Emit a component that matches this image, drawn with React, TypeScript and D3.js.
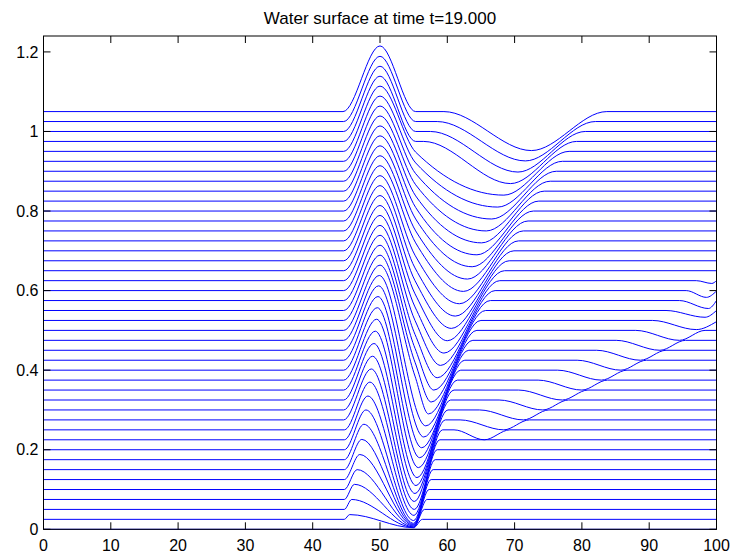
import * as d3 from "d3";

const titleText = "Water surface at time t=19.000";
const xTicks = [0, 10, 20, 30, 40, 50, 60, 70, 80, 90, 100];
const yTicks = [0, 0.2, 0.4, 0.6, 0.8, 1, 1.2];

// one profile per stacked line, bottom to top
const baselines = [
    0, 0.025, 0.05, 0.075, 0.1, 0.125, 0.15, 0.175, 0.2, 0.225, 0.25,
    0.275, 0.3, 0.325, 0.35, 0.375, 0.4, 0.425, 0.45, 0.475, 0.5, 0.525,
    0.55, 0.575, 0.6, 0.625, 0.65, 0.675, 0.7, 0.725, 0.75, 0.775, 0.8,
    0.825, 0.85, 0.875, 0.9, 0.925, 0.95, 0.975, 1, 1.025, 1.05,
];

const riseX = [
    44, 44.7, 44.7, 44.7, 44.7, 44.7, 44.7, 44.7, 44.7, 44.7, 44.7,
    44.6, 44.6, 44.6, 44.6, 44.6, 44.6, 44.6, 44.6, 44.6, 44.6, 44.6,
    44.6, 44.6, 44.6, 44.6, 44.6, 44.6, 44.6, 44.6, 44.6, 44.6, 44.6,
    44.6, 44.6, 44.6, 44.6, 44.6, 44.6, 44.6, 44.6, 44.6, 44.5,
];

const peakX = [
    47, 45.5, 45.8, 46.2, 46.6, 47, 47.3, 47.6, 47.9, 48.2, 48.5, 48.7,
    48.9, 49.1, 49.3, 49.5, 49.6, 49.7, 49.8, 49.9, 50, 50, 50, 50, 50,
    50, 50, 50, 50, 50, 50, 50, 50, 50, 50, 50, 50, 50, 50, 50, 50, 50, 50,
];

const peakY = [
    0, 0.037, 0.075, 0.113, 0.15, 0.188, 0.226, 0.264, 0.3, 0.335, 0.37,
    0.403, 0.435, 0.467, 0.498, 0.528, 0.557, 0.585, 0.612, 0.638, 0.664,
    0.689, 0.714, 0.739, 0.764, 0.789, 0.814, 0.839, 0.864, 0.889, 0.914,
    0.939, 0.964, 0.989, 1.014, 1.039, 1.064, 1.089, 1.114, 1.139, 1.164,
    1.189, 1.215,
];

// where the hump ends and the slower fall into the trough begins
const humpEndX = [
    null, null, null, null, null, null, null, null, null, null,
    null, null, null, null, null, null, null, null, null, null,
    55.2, 55.2, 55.2, 55.2, 55.2, 55.2, 55.2, 55.2, 55.2, 55.2,
    55.3, 55.3, 55.3, 55.3, 55.3, 55.3, 55.3, 55.3, 55.3, 55.3,
    55.3, 55.3, 55.3,
];
const humpEndY = [
    null, null, null, null, null, null, null, null, null, null,
    null, null, null, null, null, null, null, null, null, null,
    0.385, 0.42, 0.455, 0.49, 0.525, 0.559, 0.592, 0.625, 0.657, 0.689,
    0.72, 0.75, 0.78, 0.809, 0.838, 0.866, 0.894, 0.921, 0.948, 0.975,
    1, 1.025, 1.05,
];
// top lines stay at rest a little before dipping
const leaveX = [
    null, null, null, null, null, null, null, null, null, null, null,
    null, null, null, null, null, null, null, null, null, null, null,
    null, null, null, null, null, null, null, null, null, null, null,
    null, null, null, null, null, null, 56.5, 57.5, 58.5, 59.5,
];

const troughX = [
    55, 55, 55, 55, 55, 55, 55, 55, 55, 55.05, 55.1, 55.1, 55.2, 55.35,
    55.5, 55.7, 55.9, 56.2, 56.5, 56.8, 57.2, 57.6, 58, 58.5, 59, 59.5,
    60, 60.6, 61.2, 61.8, 62.4, 63, 63.7, 64.4, 65.1, 65.8, 66.6, 67.5,
    68.4, 69.4, 70.5, 71.6, 72.5,
];
const troughY = [
    0, 0.004, 0.005, 0.006, 0.008, 0.01, 0.012, 0.015, 0.022, 0.035, 0.05,
    0.07, 0.09, 0.11, 0.13, 0.155, 0.18, 0.205, 0.232, 0.26, 0.29, 0.32,
    0.35, 0.381, 0.412, 0.443, 0.474, 0.505, 0.536, 0.567, 0.598, 0.629,
    0.66, 0.69, 0.72, 0.75, 0.78, 0.81, 0.84, 0.869, 0.898, 0.926, 0.952,
];
const settleX = [
    57, 56.3, 56.6, 57, 57.3, 57.6, 57.9, 58.2, 58.5, 58.9, 59.3, 59.7,
    60.1, 60.5, 61, 61.5, 62, 62.6, 63.2, 63.8, 64.4, 65, 65.7, 66.4,
    67.1, 67.8, 68.5, 69.2, 69.9, 70.6, 71.3, 72, 72.8, 73.6, 74.4, 75.3,
    76.2, 77.1, 78.1, 79.2, 80.5, 82, 83.7,
];

// slow trailing dip on the middle lines
const swellStartX = [
    null, null, null, null, null, null, null, null, null, null,
    61, 61.9, 64.8, 67.7, 70.6, 73.5, 76.4, 79.3, 82.2, 85.1, 88, 90.5,
    92.5, 94.5, 95.5, 97,
    null, null, null, null, null, null, null, null, null, null, null, null,
    null, null, null, null, null,
];
const swellX = [
    null, null, null, null, null, null, null, null, null, null,
    65.5, 68.4, 71.3, 74.2, 77.1, 80, 82.9, 85.8, 88.7, 91.6, 94.5, 97,
    98.3, 98.8, 98.5, 99.3,
    null, null, null, null, null, null, null, null, null, null, null, null,
    null, null, null, null, null,
];
const swellY = [
    null, null, null, null, null, null, null, null, null, null,
    0.225, 0.25, 0.275, 0.3, 0.325, 0.35, 0.375, 0.4, 0.425, 0.45, 0.475,
    0.502, 0.533, 0.555, 0.583, 0.618,
    null, null, null, null, null, null, null, null, null, null, null, null,
    null, null, null, null, null,
];
const swellEndX = [
    null, null, null, null, null, null, null, null, null, null,
    69.3, 72.2, 75.1, 78, 80.9, 83.8, 86.7, 89.6, 92.5, 95.4, 98.3,
    null, null, null, null, null,
    null, null, null, null, null, null, null, null, null, null, null, null,
    null, null, null, null, null,
];
const edgeHookY = [
    null, null, null, null, null, null, null, null, null, null, null,
    null, null, null, null, null, null, null, null, null, null,
    0.522, 0.55, 0.575, 0.599, 0.625,
    null, null, null, null, null, null, null, null, null, null, null, null,
    null, null, null, null, null,
];

const width = 734;
const height = 559;
const margin = { top: 36, right: 17.5, bottom: 29.7, left: 43.5 };
const fontFamily = '"Liberation Sans", Arial, Helvetica, sans-serif';

export default function App() {
    const x = d3
        .scaleLinear()
        .domain([0, 100])
        .range([margin.left, width - margin.right]);
    const y = d3
        .scaleLinear()
        .domain([0, 1.24])
        .range([height - margin.bottom, margin.top]);

    const line = d3
        .line<[number, number]>()
        .x((d) => x(d[0]))
        .y((d) => y(d[1]))
        .curve(d3.curveMonotoneX);

    const profiles = baselines.map((b, k) => {
        const pts: [number, number][] = [
            [0, b],
            [riseX[k], b],
            [peakX[k], peakY[k]],
        ];
        if (humpEndX[k] !== null) {
            pts.push([humpEndX[k] as number, humpEndY[k] as number]);
            if (leaveX[k] !== null) {
                pts.push([leaveX[k] as number, humpEndY[k] as number]);
            }
        }
        pts.push([troughX[k], troughY[k]]);
        pts.push([settleX[k], b]);
        if (swellX[k] !== null) {
            pts.push([swellStartX[k] as number, b]);
            pts.push([swellX[k] as number, swellY[k] as number]);
            if (swellEndX[k] !== null) {
                pts.push([swellEndX[k] as number, b]);
            }
        }
        pts.push([100, edgeHookY[k] ?? b]);
        return pts;
    });

    const left = margin.left;
    const right = width - margin.right;
    const top = margin.top;
    const bottom = height - margin.bottom;
    const tick = 7;

    return (
        <svg
            width={width}
            height={height}
            style={{ position: "absolute", left: 0, top: 0, background: "#fff" }}
            fontFamily={fontFamily}
        >
            <rect x={0} y={0} width={width} height={height} fill="#fff" />
            <text
                x={(left + right) / 2}
                y={24}
                textAnchor="middle"
                fontSize={17}
                fill="#000"
            >
                {titleText}
            </text>

            <g fill="none" stroke="#0000ff" strokeWidth={1}>
                {profiles.map((pts, k) => (
                    <path key={k} d={line(pts) ?? ""} />
                ))}
            </g>

            <g stroke="#000" strokeWidth={1}>
                {xTicks.map((t) => (
                    <g key={`x${t}`}>
                        <line x1={x(t)} x2={x(t)} y1={bottom} y2={bottom - tick} />
                        <line x1={x(t)} x2={x(t)} y1={top} y2={top + tick} />
                    </g>
                ))}
                {yTicks.map((t) => (
                    <g key={`y${t}`}>
                        <line x1={left} x2={left + tick} y1={y(t)} y2={y(t)} />
                        <line x1={right} x2={right - tick} y1={y(t)} y2={y(t)} />
                    </g>
                ))}
                <rect
                    x={left}
                    y={top}
                    width={right - left}
                    height={bottom - top}
                    fill="none"
                />
            </g>

            <g fontSize={16} fill="#000">
                {xTicks.map((t) => (
                    <text key={`xl${t}`} x={x(t)} y={bottom + 21.4} textAnchor="middle">
                        {t}
                    </text>
                ))}
                {yTicks.map((t) => (
                    <text
                        key={`yl${t}`}
                        x={left - 5}
                        y={y(t)}
                        dy="0.35em"
                        textAnchor="end"
                    >
                        {t}
                    </text>
                ))}
            </g>
        </svg>
    );
}
